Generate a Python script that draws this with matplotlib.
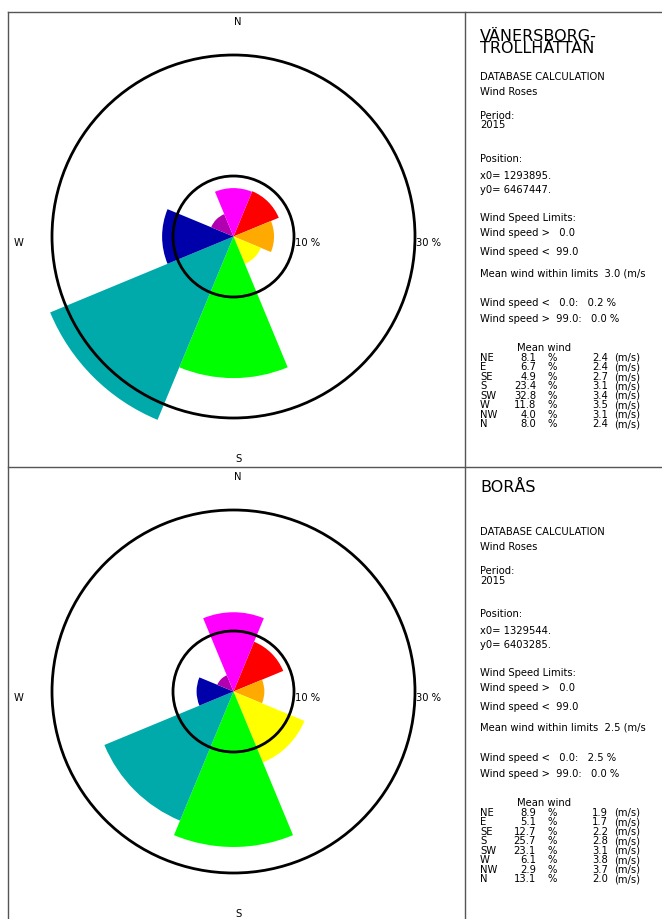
import numpy as np
import matplotlib
matplotlib.use("Agg")
import matplotlib.pyplot as plt
from matplotlib.patches import Wedge, Circle
from matplotlib.lines import Line2D

### data
directions = ['NE', 'E', 'SE', 'S', 'SW', 'W', 'NW', 'N']
dir_angles = [45, 90, 135, 180, 225, 270, 315, 0]   # compass degrees
sector_colors = ['#ff0000', '#ffaa00', '#ffff00', '#00ff00',
                 '#00aaaa', '#0000aa', '#b000b0', '#ff00ff']

titles = [['VÄNERSBORG-', 'TROLLHÄTTAN'], ['BORÅS']]
x0_vals = ['1293895.', '1329544.']
y0_vals = ['6467447.', '6403285.']
freq_top = [8.1, 6.7, 4.9, 23.4, 32.8, 11.8, 4.0, 8.0]
speed_top = [2.4, 2.4, 2.7, 3.1, 3.4, 3.5, 3.1, 2.4]
freq_bot = [8.9, 5.1, 12.7, 25.7, 23.1, 6.1, 2.9, 13.1]
speed_bot = [1.9, 1.7, 2.2, 2.8, 3.1, 3.8, 3.7, 2.0]
mean_within = [3.0, 2.5]
calm_pct = [0.2, 2.5]
above_pct = [0.0, 0.0]
period = '2015'
ring_levels = [10, 30]

W, H = 662, 920
fig = plt.figure(figsize=(W/100, H/100), dpi=100)
fig.patch.set_facecolor('white')

def fx(x):
    return x / W

def fy(y):
    return 1 - y / H

### frame lines
frame_col = '#555555'
for (xa, ya, xb, yb) in [(8, 13, W, 13), (8, 13, 8, H), (465, 13, 465, H), (8, 468, W, 468)]:
    fig.add_artist(Line2D([fx(xa), fx(xb)], [fy(ya), fy(yb)], color=frame_col, lw=1.0))

scale = 6.05   # pixels per percent
small = 7.2
panels = [(freq_top, speed_top, 0), (freq_bot, speed_bot, 455)]
title_base = [53, 492]   # baseline of last title line, px

for p, (freq, speed, dy) in enumerate(panels):
    cx, cy = 233.5, 237.5 + dy
    px0, px1, py0, py1 = 8, 465, 13 + dy, 468 + dy
    ax = fig.add_axes([fx(px0), fy(py1), (px1 - px0) / W, (py1 - py0) / H])
    ax.set_xlim((px0 - cx) / scale, (px1 - cx) / scale)
    ax.set_ylim((cy - py1) / scale, (cy - py0) / scale)
    ax.axis('off')
    for a, f, c in zip(dir_angles, freq, sector_colors):
        th = 90 - a
        ax.add_patch(Wedge((0, 0), f, th - 22.5, th + 22.5, facecolor=c, edgecolor='none', zorder=2))
    for r in ring_levels:
        ax.add_patch(Circle((0, 0), r, fill=False, edgecolor='black', lw=2.0, zorder=3))
        ax.text(r + 0.2, -0.9, f'{r} %', fontsize=small, ha='left', va='center', zorder=4)
    ax.text(0.75, 35.6, 'N', fontsize=small, ha='center', va='center')
    ax.text(0.75, -36.6, 'S', fontsize=small, ha='center', va='center')
    ax.text(-35.5, -0.9, 'W', fontsize=small, ha='center', va='center')

    ### text block
    tx = 480
    fig.text(fx(tx), fy(title_base[p]), '\n'.join(titles[p]), fontsize=11.5, ha='left',
             va='baseline', linespacing=0.78)
    rows = [
        (77, 'DATABASE CALCULATION'),
        (92, 'Wind Roses'),
        (116, 'Period:'),
        (125.5, period),
        (159, 'Position:'),
        (176, 'x0= ' + x0_vals[p]),
        (190, 'y0= ' + y0_vals[p]),
        (218, 'Wind Speed Limits:'),
        (233, 'Wind speed >   0.0'),
        (252, 'Wind speed <  99.0'),
        (273, f'Mean wind within limits  {mean_within[p]:.1f} (m/s'),
        (303, f'Wind speed <   0.0:   {calm_pct[p]:.1f} %'),
        (319, f'Wind speed >  99.0:   {above_pct[p]:.1f} %'),
    ]
    for yy, s in rows:
        fig.text(fx(tx), fy(yy + dy), s, fontsize=small, ha='left', va='center')
    fig.text(fx(517), fy(348 + dy), 'Mean wind', fontsize=small, ha='left', va='center')
    for i, (d, f, v) in enumerate(zip(directions, freq, speed)):
        yy = 358 + i * 9.5 + dy
        fig.text(fx(tx), fy(yy), d, fontsize=small, ha='left', va='center')
        fig.text(fx(536), fy(yy), f'{f:.1f}', fontsize=small, ha='right', va='center')
        fig.text(fx(548), fy(yy), '%', fontsize=small, ha='left', va='center')
        fig.text(fx(608), fy(yy), f'{v:.1f}', fontsize=small, ha='right', va='center')
        fig.text(fx(614), fy(yy), '(m/s)', fontsize=small, ha='left', va='center')

fig.savefig('out.png', dpi=100)
